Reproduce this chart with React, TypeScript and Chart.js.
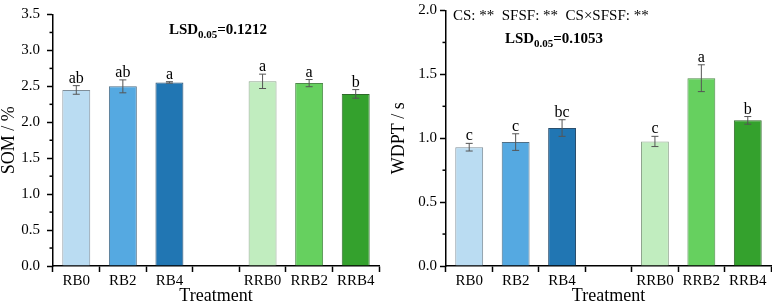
import React, { useEffect, useRef } from 'react';
import { Chart, registerables } from 'chart.js';

Chart.register(...registerables);

const FONT = "'Liberation Serif', 'Times New Roman', serif";

const categories = ['RB0', 'RB2', 'RB4', '', 'RRB0', 'RRB2', 'RRB4'];
const barColors = ['#BADCF2', '#55A9E1', '#2176B3', '#FFFFFF', '#C1EDBF', '#66D05F', '#34A12D'];
const barBorders = ['#7F8E99', '#4F6F86', '#2A4F6E', '#FFFFFF', '#8FA58E', '#4E8A4A', '#2E6A2A'];

const somValues = [2.45, 2.5, 2.555, null, 2.57, 2.545, 2.395];
const somErrors = [0.06, 0.09, 0.01, null, 0.1, 0.05, 0.06];
const somLetters = ['ab', 'ab', 'a', '', 'a', 'a', 'b'];

const wdptValues = [0.93, 0.97, 1.08, null, 0.975, 1.47, 1.14];
const wdptErrors = [0.03, 0.065, 0.065, null, 0.04, 0.105, 0.03];
const wdptLetters = ['c', 'c', 'bc', '', 'c', 'a', 'b'];

const somAxis = { min: 0, max: 3.5, step: 0.5, title: 'SOM / %' };
const wdptAxis = { min: 0, max: 2.0, step: 0.5, title: 'WDPT / s' };

const somLSD = '0.1212';
const wdptLSD = '0.1053';
const wdptSignif = 'CS: **  SFSF: **  CS\u00D7SFSF: **';

function drawLSD(ctx: CanvasRenderingContext2D, cx: number, cy: number, value: string) {
  ctx.save();
  const big = `bold 15px ${FONT}`;
  const small = `bold 11px ${FONT}`;
  ctx.font = big;
  const w1 = ctx.measureText('LSD').width;
  const w3 = ctx.measureText('=' + value).width;
  ctx.font = small;
  const w2 = ctx.measureText('0.05').width;
  const total = w1 + w2 + w3;
  let x = cx - total / 2;
  ctx.fillStyle = '#000';
  ctx.textBaseline = 'alphabetic';
  ctx.textAlign = 'left';
  const base = cy + 5;
  ctx.font = big;
  ctx.fillText('LSD', x, base);
  x += w1;
  ctx.font = small;
  ctx.fillText('0.05', x, base + 4);
  x += w2;
  ctx.font = big;
  ctx.fillText('=' + value, x, base);
  ctx.restore();
}

function makePlugin(values: (number | null)[], errors: (number | null)[], letters: string[], annotate: (chart: any) => void) {
  return {
    id: 'extras',
    afterDraw(chart: any) {
      const ctx = chart.ctx as CanvasRenderingContext2D;
      const y = chart.scales.y;
      const area = chart.chartArea;
      // minor ticks
      ctx.save();
      ctx.strokeStyle = '#000';
      ctx.lineWidth = 1.5;
      const ticks = y.ticks.map((t: any) => t.value);
      for (let i = 0; i < ticks.length - 1; i++) {
        const mid = (ticks[i] + ticks[i + 1]) / 2;
        const py = y.getPixelForValue(mid);
        ctx.beginPath();
        ctx.moveTo(area.left - 3.5, py);
        ctx.lineTo(area.left, py);
        ctx.stroke();
      }
      ctx.restore();
      // error bars and letters
      const meta = chart.getDatasetMeta(0);
      ctx.save();
      for (let i = 0; i < values.length; i++) {
        const v = values[i];
        const e = errors[i];
        if (v == null || e == null) continue;
        const bx = meta.data[i].x;
        const top = y.getPixelForValue(v + e);
        const bot = y.getPixelForValue(v - e);
        ctx.strokeStyle = '#555';
        ctx.lineWidth = 1;
        ctx.beginPath();
        ctx.moveTo(bx, top);
        ctx.lineTo(bx, bot);
        ctx.moveTo(bx - 3.5, top);
        ctx.lineTo(bx + 3.5, top);
        ctx.moveTo(bx - 3.5, bot);
        ctx.lineTo(bx + 3.5, bot);
        ctx.stroke();
        ctx.fillStyle = '#000';
        ctx.font = `16px ${FONT}`;
        ctx.textAlign = 'center';
        ctx.textBaseline = 'alphabetic';
        ctx.fillText(letters[i], bx, top - 3);
      }
      ctx.restore();
      annotate(chart);
    },
  };
}

function buildConfig(
  values: (number | null)[],
  errors: (number | null)[],
  letters: string[],
  axis: { min: number; max: number; step: number; title: string },
  geom: { yWidth: number; padRight: number; tickPad: number; titlePad: number },
  annotate: (chart: any) => void
): any {
  return {
    type: 'bar',
    data: {
      labels: categories,
      datasets: [
        {
          data: values,
          backgroundColor: barColors,
          borderColor: barBorders,
          borderWidth: 1,
          barPercentage: 0.6,
          categoryPercentage: 1,
        },
      ],
    },
    options: {
      responsive: false,
      animation: false,
      devicePixelRatio: 1,
      layout: { padding: { top: 8, right: geom.padRight, left: 0, bottom: 0 } },
      plugins: { legend: { display: false }, tooltip: { enabled: false } },
      scales: {
        x: {
          offset: true,
          grid: { offset: true, drawOnChartArea: false, drawTicks: true, tickLength: 6, tickColor: '#000', tickWidth: 1.5 },
          border: { display: true, color: '#000', width: 1.5 },
          ticks: { font: { family: FONT, size: 15, lineHeight: 1 }, color: '#000', padding: 2, maxRotation: 0, autoSkip: false },
          title: { display: true, text: 'Treatment', color: '#000', font: { family: FONT, size: 18, lineHeight: 1.0 }, padding: { top: 0, bottom: 0 } },
          afterFit: (s: any) => {
            s.height = 39;
          },
        },
        y: {
          min: axis.min,
          max: axis.max,
          ticks: {
            stepSize: axis.step,
            callback: (v: any) => Number(v).toFixed(1),
            font: { family: FONT, size: 15, lineHeight: 1 },
            color: '#000',
            padding: geom.tickPad,
          },
          grid: { drawOnChartArea: false, drawTicks: true, tickLength: 6, tickColor: '#000', tickWidth: 1.5 },
          border: { display: true, color: '#000', width: 1.5 },
          title: { display: true, text: axis.title, color: '#000', font: { family: FONT, size: 18, lineHeight: 1 }, padding: { top: geom.titlePad, bottom: 0 } },
          afterFit: (s: any) => {
            s.width = geom.yWidth;
          },
        },
      },
    },
    plugins: [makePlugin(values, errors, letters, annotate)],
  };
}

export default function App() {
  const leftRef = useRef<HTMLCanvasElement>(null);
  const rightRef = useRef<HTMLCanvasElement>(null);

  useEffect(() => {
    const left = new Chart(
      leftRef.current as HTMLCanvasElement,
      buildConfig(somValues, somErrors, somLetters, somAxis, { yWidth: 53, padRight: 7, tickPad: 7, titlePad: 0 }, (chart: any) => {
        const a = chart.chartArea;
        drawLSD(chart.ctx, (a.left + a.right) / 2 + 2, a.top + 14, somLSD);
      })
    );
    const right = new Chart(
      rightRef.current as HTMLCanvasElement,
      buildConfig(wdptValues, wdptErrors, wdptLetters, wdptAxis, { yWidth: 60, padRight: 1, tickPad: 3, titlePad: 4 }, (chart: any) => {
        const a = chart.chartArea;
        const ctx = chart.ctx as CanvasRenderingContext2D;
        ctx.save();
        ctx.font = `15px ${FONT}`;
        ctx.fillStyle = '#000';
        ctx.textAlign = 'left';
        ctx.textBaseline = 'middle';
        ctx.fillText(wdptSignif, a.left + 7, a.top + 6);
        ctx.restore();
        drawLSD(ctx, a.left + 108, a.top + 27, wdptLSD);
      })
    );
    return () => {
      left.destroy();
      right.destroy();
    };
  }, []);

  return (
    <div style={{ position: 'absolute', left: 0, top: 0, width: 772, height: 305, display: 'flex', background: '#fff' }}>
      <canvas ref={leftRef} width={386} height={305} style={{ display: 'block', width: 386, height: 305 }} />
      <canvas ref={rightRef} width={386} height={305} style={{ display: 'block', width: 386, height: 305 }} />
    </div>
  );
}
